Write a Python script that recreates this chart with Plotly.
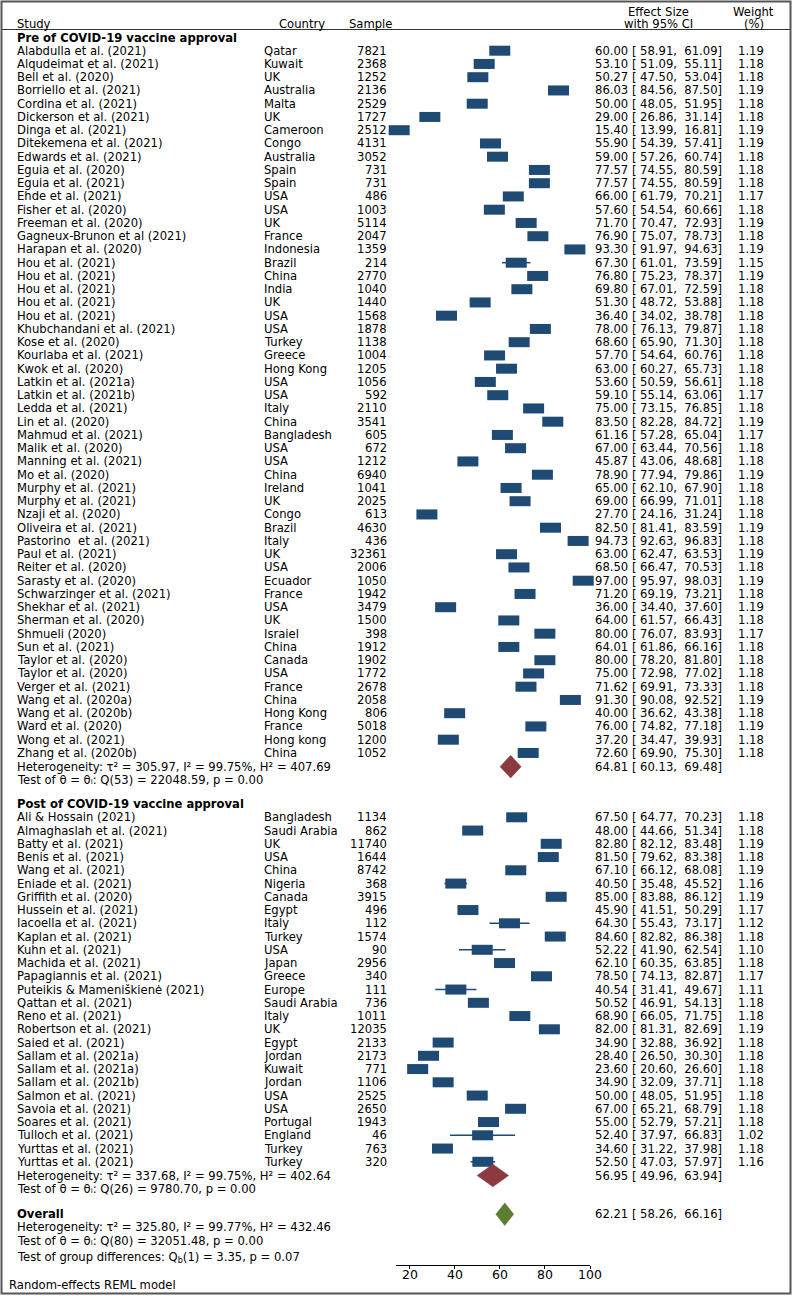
import plotly.graph_objects as go

W, H = 793, 1296
FONT = "DejaVu Sans"
BLUE = "#1e4a74"
RED = "#8b3a40"
GREEN = "#5b7e31"

# ---------------- data ----------------
pre_study = ["Alabdulla et al. (2021)", "Alqudeimat et al. (2021)", "Bell et al. (2020)", "Borriello et al. (2021)",
             "Cordina et al. (2021)", "Dickerson et al. (2021)", "Dinga et al. (2021)", "Ditekemena et al. (2021)",
             "Edwards et al. (2021)", "Eguia et al. (2020)", "Eguia et al. (2021)", "Ehde et al. (2021)",
             "Fisher et al. (2020)", "Freeman et al. (2020)", "Gagneux-Brunon et al (2021)", "Harapan et al. (2020)",
             "Hou et al. (2021)", "Hou et al. (2021)", "Hou et al. (2021)", "Hou et al. (2021)", "Hou et al. (2021)",
             "Khubchandani et al. (2021)", "Kose et al. (2020)", "Kourlaba et al. (2021)", "Kwok et al. (2020)",
             "Latkin et al. (2021a)", "Latkin et al. (2021b)", "Ledda et al. (2021)", "Lin et al. (2020)",
             "Mahmud et al. (2021)", "Malik et al. (2020)", "Manning et al. (2021)", "Mo et al. (2020)",
             "Murphy et al. (2021)", "Murphy et al. (2021)", "Nzaji et al. (2020)", "Oliveira et al. (2021)",
             "Pastorino  et al. (2021)", "Paul et al. (2021)", "Reiter et al. (2020)", "Sarasty et al. (2020)",
             "Schwarzinger et al. (2021)", "Shekhar et al. (2021)", "Sherman et al. (2020)", "Shmueli (2020)",
             "Sun et al. (2021)", "Taylor et al. (2020)", "Taylor et al. (2020)", "Verger et al. (2021)",
             "Wang et al. (2020a)", "Wang et al. (2020b)", "Ward et al. (2020)", "Wong et al. (2021)",
             "Zhang et al. (2020b)"]
pre_country = ["Qatar", "Kuwait", "UK", "Australia", "Malta", "UK", "Cameroon", "Congo", "Australia", "Spain",
               "Spain", "USA", "USA", "UK", "France", "Indonesia", "Brazil", "China", "India", "UK", "USA", "USA",
               "Turkey", "Greece", "Hong Kong", "USA", "USA", "Italy", "China", "Bangladesh", "USA", "USA", "China",
               "Ireland", "UK", "Congo", "Brazil", "Italy", "UK", "USA", "Ecuador", "France", "USA", "UK", "Israiel",
               "China", "Canada", "USA", "France", "China", "Hong Kong", "France", "Hong kong", "China"]
pre_sample = [7821, 2368, 1252, 2136, 2529, 1727, 2512, 4131, 3052, 731, 731, 486, 1003, 5114, 2047, 1359, 214,
              2770, 1040, 1440, 1568, 1878, 1138, 1004, 1205, 1056, 592, 2110, 3541, 605, 672, 1212, 6940, 1041,
              2025, 613, 4630, 436, 32361, 2006, 1050, 1942, 3479, 1500, 398, 1912, 1902, 1772, 2678, 2058, 806,
              5018, 1200, 1052]
pre_es = [60.00, 53.10, 50.27, 86.03, 50.00, 29.00, 15.40, 55.90, 59.00, 77.57, 77.57, 66.00, 57.60, 71.70, 76.90,
          93.30, 67.30, 76.80, 69.80, 51.30, 36.40, 78.00, 68.60, 57.70, 63.00, 53.60, 59.10, 75.00, 83.50, 61.16,
          67.00, 45.87, 78.90, 65.00, 69.00, 27.70, 82.50, 94.73, 63.00, 68.50, 97.00, 71.20, 36.00, 64.00, 80.00,
          64.01, 80.00, 75.00, 71.62, 91.30, 40.00, 76.00, 37.20, 72.60]
pre_lo = [58.91, 51.09, 47.50, 84.56, 48.05, 26.86, 13.99, 54.39, 57.26, 74.55, 74.55, 61.79, 54.54, 70.47, 75.07,
          91.97, 61.01, 75.23, 67.01, 48.72, 34.02, 76.13, 65.90, 54.64, 60.27, 50.59, 55.14, 73.15, 82.28, 57.28,
          63.44, 43.06, 77.94, 62.10, 66.99, 24.16, 81.41, 92.63, 62.47, 66.47, 95.97, 69.19, 34.40, 61.57, 76.07,
          61.86, 78.20, 72.98, 69.91, 90.08, 36.62, 74.82, 34.47, 69.90]
pre_hi = [61.09, 55.11, 53.04, 87.50, 51.95, 31.14, 16.81, 57.41, 60.74, 80.59, 80.59, 70.21, 60.66, 72.93, 78.73,
          94.63, 73.59, 78.37, 72.59, 53.88, 38.78, 79.87, 71.30, 60.76, 65.73, 56.61, 63.06, 76.85, 84.72, 65.04,
          70.56, 48.68, 79.86, 67.90, 71.01, 31.24, 83.59, 96.83, 63.53, 70.53, 98.03, 73.21, 37.60, 66.43, 83.93,
          66.16, 81.80, 77.02, 73.33, 92.52, 43.38, 77.18, 39.93, 75.30]
pre_weight = [1.19, 1.18, 1.18, 1.19, 1.18, 1.18, 1.19, 1.19, 1.18, 1.18, 1.18, 1.17, 1.18, 1.19, 1.18, 1.19, 1.15,
              1.19, 1.18, 1.18, 1.18, 1.18, 1.18, 1.18, 1.18, 1.18, 1.17, 1.18, 1.19, 1.17, 1.18, 1.18, 1.19, 1.18,
              1.18, 1.18, 1.19, 1.18, 1.19, 1.18, 1.19, 1.18, 1.19, 1.18, 1.17, 1.18, 1.18, 1.18, 1.18, 1.19, 1.18,
              1.19, 1.18, 1.18]

post_study = ["Ali & Hossain (2021)", "Almaghaslah et al. (2021)", "Batty et al. (2021)", "Benis et al. (2021)",
              "Wang et al. (2021)", "Eniade et al. (2021)", "Griffith et al. (2020)", "Hussein et al. (2021)",
              "Iacoella et al. (2021)", "Kaplan et al. (2021)", "Kuhn et al. (2021)", "Machida et al. (2021)",
              "Papagiannis et al. (2021)", "Puteikis & Mameniškienė (2021)", "Qattan et al. (2021)",
              "Reno et al. (2021)", "Robertson et al. (2021)", "Saied et al. (2021)", "Sallam et al. (2021a)",
              "Sallam et al. (2021a)", "Sallam et al. (2021b)", "Salmon et al. (2021)", "Savoia et al. (2021)",
              "Soares et al. (2021)", "Tulloch et al. (2021)", "Yurttas et al. (2021)", "Yurttas et al. (2021)"]
post_country = ["Bangladesh", "Saudi Arabia", "UK", "USA", "China", "Nigeria", "Canada", "Egypt", "Italy", "Turkey",
                "USA", "Japan", "Greece", "Europe", "Saudi Arabia", "Italy", "UK", "Egypt", "Jordan", "Kuwait",
                "Jordan", "USA", "USA", "Portugal", "England", "Turkey", "Turkey"]
post_sample = [1134, 862, 11740, 1644, 8742, 368, 3915, 496, 112, 1574, 90, 2956, 340, 111, 736, 1011, 12035, 2133,
               2173, 771, 1106, 2525, 2650, 1943, 46, 763, 320]
post_es = [67.50, 48.00, 82.80, 81.50, 67.10, 40.50, 85.00, 45.90, 64.30, 84.60, 52.22, 62.10, 78.50, 40.54, 50.52,
           68.90, 82.00, 34.90, 28.40, 23.60, 34.90, 50.00, 67.00, 55.00, 52.40, 34.60, 52.50]
post_lo = [64.77, 44.66, 82.12, 79.62, 66.12, 35.48, 83.88, 41.51, 55.43, 82.82, 41.90, 60.35, 74.13, 31.41, 46.91,
           66.05, 81.31, 32.88, 26.50, 20.60, 32.09, 48.05, 65.21, 52.79, 37.97, 31.22, 47.03]
post_hi = [70.23, 51.34, 83.48, 83.38, 68.08, 45.52, 86.12, 50.29, 73.17, 86.38, 62.54, 63.85, 82.87, 49.67, 54.13,
           71.75, 82.69, 36.92, 30.30, 26.60, 37.71, 51.95, 68.79, 57.21, 66.83, 37.98, 57.97]
post_weight = [1.18, 1.18, 1.19, 1.18, 1.19, 1.16, 1.19, 1.17, 1.12, 1.18, 1.10, 1.18, 1.17, 1.11, 1.18, 1.18, 1.19,
               1.18, 1.18, 1.18, 1.18, 1.18, 1.18, 1.18, 1.02, 1.18, 1.16]

# pooled estimates: [es, lo, hi]
pre_pooled = [64.81, 60.13, 69.48]
post_pooled = [56.95, 49.96, 63.94]
overall_pooled = [62.21, 58.26, 66.16]

# heterogeneity stats: [tau2, I2, H2, df, Q, p]
pre_stats = [305.97, 99.75, 407.69, 53, 22048.59, 0.00]
post_stats = [337.68, 99.75, 402.64, 26, 9780.70, 0.00]
overall_stats = [325.80, 99.77, 432.46, 80, 32051.48, 0.00]
group_diff = [1, 3.35, 0.07]  # df, Qb, p

x_ticks = [20, 40, 60, 80, 100]

# ---------------- layout geometry (pixels) ----------------
ROW_H = 13.25
PRE_HEAD_Y = 37.7
PRE_Y0 = 50.7
POST_HEAD_Y = 804.3
POST_Y0 = 817.3
X_STUDY, X_COUNTRY, X_SAMPLE, X_ES, X_WEIGHT = 16, 263, 388, 594, 765
FS = 11.6

pre_y = [PRE_Y0 + i * ROW_H for i in range(len(pre_study))]
post_y = [POST_Y0 + i * ROW_H for i in range(len(post_study))]
pre_het_y = pre_y[-1] + 13.7
pre_test_y = pre_het_y + 13.2
post_het_y = post_y[-1] + 13.7
post_test_y = post_het_y + 13.4
overall_y = post_test_y + 25.3
overall_het_y = overall_y + 13.0
overall_test_y = overall_het_y + 13.4
group_y = overall_test_y + 16.6
AXIS_Y = 1264.5
TICKLABEL_Y = 1274

fig = go.Figure()


def add_studies(es, lo, hi, ys):
    fig.add_trace(go.Scatter(
        x=es, y=ys, mode="markers",
        marker=dict(symbol="line-ew", size=15, line=dict(width=10, color=BLUE)),
        error_x=dict(type="data", symmetric=False,
                     array=[h - e for e, h in zip(es, hi)],
                     arrayminus=[e - l for e, l in zip(es, lo)],
                     color=BLUE, thickness=1.5, width=0),
        cliponaxis=False, showlegend=False, hoverinfo="skip"))


def add_diamond(pooled, yc, color, half_h=11.3):
    es, lo, hi = pooled
    fig.add_trace(go.Scatter(
        x=[lo, es, hi, es, lo], y=[yc, yc - half_h, yc, yc + half_h, yc],
        mode="lines", fill="toself", fillcolor=color, line=dict(color=color, width=0.5),
        showlegend=False, hoverinfo="skip"))


add_studies(pre_es, pre_lo, pre_hi, pre_y)
add_studies(post_es, post_lo, post_hi, post_y)
add_diamond(pre_pooled, pre_het_y, RED)
add_diamond(post_pooled, post_het_y, RED)
add_diamond(overall_pooled, overall_y, GREEN)

ann = []


def txt(x, y, s, anchor="left", size=FS):
    ann.append(dict(x=x / W, xref="paper", y=y, yref="y", text=s, showarrow=False,
                    xanchor=anchor, yanchor="middle", borderpad=0,
                    font=dict(family=FONT, size=size, color="black")))


def ci_text(e, l, h):
    return f"{e:5.2f} [{l:6.2f}, {h:6.2f}]"


# header
txt(X_STUDY, 23.9, "Study")
txt(278, 23.9, "Country")
txt(348, 23.9, "Sample")
txt(658, 12.3, "Effect Size", "center")
txt(658, 24.2, "with 95% CI", "center")
txt(753, 12.3, "Weight", "center")
txt(753.5, 24.2, "(%)", "center")

txt(X_STUDY, PRE_HEAD_Y, "<b>Pre of COVID-19 vaccine approval</b>")
txt(X_STUDY, POST_HEAD_Y, "<b>Post of COVID-19 vaccine approval</b>")

for st, co, sa, e, l, h, w, y in zip(pre_study + post_study, pre_country + post_country,
                                      pre_sample + post_sample, pre_es + post_es, pre_lo + post_lo,
                                      pre_hi + post_hi, pre_weight + post_weight, pre_y + post_y):
    txt(X_STUDY, y, st)
    txt(X_COUNTRY, y, co)
    txt(X_SAMPLE, y, str(sa), "right")
    txt(X_ES, y, ci_text(e, l, h))
    txt(X_WEIGHT, y, f"{w:.2f}", "right")


def het_text(s):
    return f"Heterogeneity: τ² = {s[0]:.2f}, I² = {s[1]:.2f}%, H² = {s[2]:.2f}"


def test_text(s):
    return f"Test of θ = θᵢ: Q({s[3]}) = {s[4]:.2f}, p = {s[5]:.2f}"


txt(X_STUDY, pre_het_y, het_text(pre_stats))
txt(X_ES, pre_het_y, ci_text(*pre_pooled))
txt(X_STUDY, pre_test_y, test_text(pre_stats))

txt(X_STUDY, post_het_y, het_text(post_stats))
txt(X_ES, post_het_y, ci_text(*post_pooled))
txt(X_STUDY, post_test_y, test_text(post_stats))

txt(X_STUDY, overall_y, "<b>Overall</b>")
txt(X_ES, overall_y, ci_text(*overall_pooled))
txt(X_STUDY, overall_het_y, het_text(overall_stats))
txt(X_STUDY, overall_test_y, test_text(overall_stats))
txt(X_STUDY, group_y,
    f"Test of group differences: Q<sub>b</sub>({group_diff[0]}) = {group_diff[1]:.2f}, p = {group_diff[2]:.2f}")

txt(7.6, 1285, "Random-effects REML model")

# tick labels placed on the data axis scale
for t in x_ticks:
    ann.append(dict(x=t, xref="x", y=TICKLABEL_Y, yref="y", text=str(t), showarrow=False,
                    xanchor="center", yanchor="middle", borderpad=0,
                    font=dict(family=FONT, size=12.5, color="black")))

shapes = [
    dict(type="line", xref="paper", x0=2 / W, x1=790 / W, yref="y", y0=29.5, y1=29.5,
         line=dict(color="#333333", width=1)),
    dict(type="rect", xref="paper", yref="paper", x0=1.5 / W, x1=790.5 / W,
         y0=1 - 1293.5 / H, y1=1 - 1.5 / H, line=dict(color="#555555", width=2)),
]

fig.update_layout(
    width=W, height=H, margin=dict(l=0, r=0, t=0, b=0),
    paper_bgcolor="white", plot_bgcolor="white", showlegend=False,
    xaxis=dict(domain=[396 / W, 590 / W], range=[14, 100], anchor="free", position=1 - AXIS_Y / H,
               showline=True, linecolor="black", linewidth=1, ticks="outside", ticklen=3,
               tickcolor="black", tickvals=x_ticks, showticklabels=False, showgrid=False,
               zeroline=False, fixedrange=True, automargin=False),
    yaxis=dict(domain=[0, 1], range=[H, 0], visible=False, showgrid=False, zeroline=False,
               fixedrange=True),
    annotations=ann, shapes=shapes,
)

fig.write_html("out.html", config={"displayModeBar": False, "staticPlot": True},
               post_script="document.body.style.margin='0px';document.body.style.overflow='hidden';")
